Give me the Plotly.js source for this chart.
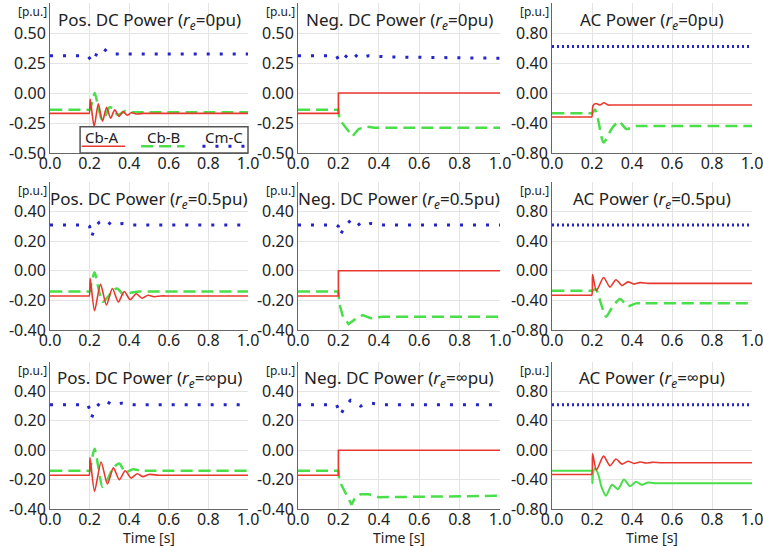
<!DOCTYPE html>
<html>
<head>
<meta charset="utf-8">
<script src="https://cdn.plot.ly/plotly-3.0.1.min.js"></script>
<style>html,body{margin:0;padding:0;background:#fff;}#chart{width:763px;height:548px;}</style>
</head>
<body>
<div id="chart"></div>
<script>
// ---------- data ----------
const seriesNames = ['Cb-A', 'Cb-B', 'Cm-C'];
const xTickVals = [0, 0.2, 0.4, 0.6, 0.8, 1.0];
const xTickText = ['0.0', '0.2', '0.4', '0.6', '0.8', '1.0'];
const dcTickVals1 = [-0.5, -0.25, 0, 0.25, 0.5];
const dcTickText1 = ['-0.50', '-0.25', '0.00', '0.25', '0.50'];
const dcRange1 = [-0.5, 0.75];
const dcTickVals2 = [-0.4, -0.2, 0, 0.2, 0.4];
const dcTickText2 = ['-0.40', '-0.20', '0.00', '0.20', '0.40'];
const dcRange2 = [-0.4, 0.6];
const acTickVals = [-0.8, -0.4, 0, 0.4, 0.8];
const acTickText = ['-0.80', '-0.40', '0.00', '0.40', '0.80'];
const acRange = [-0.8, 1.2];
const panelTitles = [
  'Pos. DC Power (<i>r<sub>e</sub></i>=0pu)', 'Neg. DC Power (<i>r<sub>e</sub></i>=0pu)', 'AC Power (<i>r<sub>e</sub></i>=0pu)',
  'Pos. DC Power (<i>r<sub>e</sub></i>=0.5pu)', 'Neg. DC Power (<i>r<sub>e</sub></i>=0.5pu)', 'AC Power (<i>r<sub>e</sub></i>=0.5pu)',
  'Pos. DC Power (<i>r<sub>e</sub></i>=∞pu)', 'Neg. DC Power (<i>r<sub>e</sub></i>=∞pu)', 'AC Power (<i>r<sub>e</sub></i>=∞pu)'
];

// Row 1: r_e = 0 pu
const pos0_A_t = [0, 0.19, 0.198, 0.203, 0.223, 0.244, 0.265, 0.286, 0.306, 0.327, 0.348, 0.369, 0.39, 0.41, 0.44, 0.47, 0.5, 1.0];
const pos0_A_v = [-0.17, -0.17, -0.17, -0.05, -0.28, -0.09, -0.235, -0.12, -0.21, -0.14, -0.195, -0.155, -0.185, -0.165, -0.175, -0.17, -0.17, -0.17];
const pos0_B_t = [0, 0.19, 0.2, 0.212, 0.226, 0.244, 0.262, 0.28, 0.30, 0.32, 0.34, 0.36, 0.38, 0.40, 0.45, 1.0];
const pos0_B_v = [-0.14, -0.14, -0.14, -0.08, 0.0, -0.12, -0.22, -0.19, -0.12, -0.13, -0.18, -0.17, -0.15, -0.16, -0.16, -0.16];
const pos0_C_t = [0, 0.19, 0.205, 0.22, 0.24, 0.27, 0.30, 0.33, 1.0];
const pos0_C_v = [0.31, 0.31, 0.28, 0.26, 0.35, 0.37, 0.33, 0.325, 0.325];

const neg0_A_t = [0, 0.2, 0.2, 1.0];
const neg0_A_v = [-0.17, -0.17, 0.0, 0.0];
const neg0_B_t = [0, 0.2, 0.205, 0.24, 0.27, 0.30, 0.34, 0.38, 0.42, 1.0];
const neg0_B_v = [-0.14, -0.14, -0.22, -0.30, -0.36, -0.30, -0.28, -0.29, -0.29, -0.29];
const neg0_C_t = [0, 0.19, 0.2, 0.215, 0.245, 0.27, 0.30, 0.35, 0.45, 1.0];
const neg0_C_v = [0.31, 0.31, 0.28, 0.26, 0.32, 0.34, 0.29, 0.31, 0.30, 0.29];

const ac0_A_t = [0, 0.19, 0.199, 0.205, 0.22, 0.24, 0.26, 0.28, 0.30, 1.0];
const ac0_A_v = [-0.32, -0.32, -0.32, -0.17, -0.14, -0.16, -0.13, -0.16, -0.16, -0.16];
const ac0_B_t = [0, 0.19, 0.2, 0.215, 0.23, 0.258, 0.30, 0.335, 0.372, 0.42, 0.46, 1.0];
const ac0_B_v = [-0.27, -0.27, -0.27, -0.22, -0.35, -0.66, -0.47, -0.38, -0.48, -0.44, -0.44, -0.44];
const ac0_C_t = [0, 1.0];
const ac0_C_v = [0.62, 0.62];

// Row 2: r_e = 0.5 pu
const pos5_A_t = [0, 0.19, 0.198, 0.203, 0.225, 0.255, 0.285, 0.315, 0.345, 0.375, 0.405, 0.435, 0.465, 0.495, 0.525, 0.56, 0.6, 1.0];
const pos5_A_v = [-0.17, -0.17, -0.17, -0.05, -0.27, -0.09, -0.23, -0.12, -0.21, -0.14, -0.195, -0.155, -0.185, -0.165, -0.175, -0.17, -0.17, -0.17];
const pos5_B_t = [0, 0.19, 0.2, 0.21, 0.225, 0.245, 0.265, 0.29, 0.32, 0.34, 0.37, 0.40, 0.45, 0.5, 1.0];
const pos5_B_v = [-0.14, -0.14, -0.14, -0.08, -0.01, -0.12, -0.21, -0.18, -0.13, -0.12, -0.16, -0.15, -0.14, -0.14, -0.14];
const pos5_C_t = [0, 0.19, 0.2, 0.21, 0.23, 0.25, 0.28, 0.31, 0.37, 0.42, 1.0];
const pos5_C_v = [0.31, 0.31, 0.30, 0.23, 0.30, 0.33, 0.345, 0.31, 0.32, 0.31, 0.31];

const neg5_A_t = [0, 0.2, 0.2, 1.0];
const neg5_A_v = [-0.17, -0.17, 0.0, 0.0];
const neg5_B_t = [0, 0.2, 0.205, 0.22, 0.25, 0.28, 0.32, 0.36, 0.42, 1.0];
const neg5_B_v = [-0.14, -0.14, -0.22, -0.30, -0.36, -0.33, -0.30, -0.32, -0.31, -0.31];
const neg5_C_t = [0, 0.19, 0.2, 0.21, 0.23, 0.26, 0.28, 0.31, 0.36, 0.42, 1.0];
const neg5_C_v = [0.31, 0.31, 0.30, 0.24, 0.30, 0.34, 0.35, 0.30, 0.32, 0.31, 0.31];

const ac5_A_t = [0, 0.19, 0.199, 0.203, 0.222, 0.258, 0.29, 0.32, 0.35, 0.38, 0.41, 0.44, 0.48, 0.52, 1.0];
const ac5_A_v = [-0.33, -0.33, -0.33, -0.05, -0.27, -0.09, -0.22, -0.12, -0.20, -0.15, -0.18, -0.16, -0.17, -0.17, -0.17];
const ac5_B_t = [0, 0.19, 0.2, 0.22, 0.24, 0.27, 0.30, 0.34, 0.38, 0.42, 0.46, 1.0];
const ac5_B_v = [-0.27, -0.27, -0.27, -0.25, -0.40, -0.62, -0.50, -0.38, -0.48, -0.44, -0.44, -0.44];
const ac5_C_t = [0, 1.0];
const ac5_C_v = [0.62, 0.62];

// Row 3: r_e = inf pu
const posI_A_t = [0, 0.19, 0.198, 0.202, 0.225, 0.258, 0.29, 0.32, 0.35, 0.38, 0.41, 0.44, 0.47, 0.50, 0.55, 0.6, 1.0];
const posI_A_v = [-0.17, -0.17, -0.17, -0.05, -0.28, -0.08, -0.23, -0.12, -0.20, -0.14, -0.19, -0.16, -0.18, -0.165, -0.17, -0.17, -0.17];
const posI_B_t = [0, 0.19, 0.2, 0.212, 0.225, 0.245, 0.265, 0.29, 0.32, 0.35, 0.38, 0.42, 0.46, 0.5, 1.0];
const posI_B_v = [-0.14, -0.14, -0.14, -0.06, 0.01, -0.12, -0.25, -0.20, -0.12, -0.09, -0.15, -0.13, -0.14, -0.14, -0.14];
const posI_C_t = [0, 0.19, 0.2, 0.21, 0.23, 0.26, 0.28, 0.31, 0.36, 0.42, 1.0];
const posI_C_v = [0.31, 0.31, 0.28, 0.22, 0.29, 0.33, 0.34, 0.31, 0.32, 0.31, 0.31];

const negI_A_t = [0, 0.2, 0.2, 1.0];
const negI_A_v = [-0.17, -0.17, 0.0, 0.0];
const negI_B_t = [0, 0.2, 0.205, 0.23, 0.265, 0.28, 0.31, 0.35, 0.40, 1.0];
const negI_B_v = [-0.14, -0.14, -0.21, -0.28, -0.37, -0.33, -0.30, -0.30, -0.32, -0.31];
const negI_C_t = [0, 0.19, 0.2, 0.21, 0.235, 0.26, 0.28, 0.31, 0.36, 0.42, 1.0];
const negI_C_v = [0.31, 0.31, 0.28, 0.24, 0.30, 0.34, 0.33, 0.30, 0.32, 0.31, 0.31];

const acI_A_t = [0, 0.19, 0.199, 0.203, 0.222, 0.258, 0.29, 0.32, 0.35, 0.38, 0.41, 0.44, 0.47, 0.50, 0.55, 1.0];
const acI_A_v = [-0.33, -0.33, -0.33, -0.05, -0.27, -0.08, -0.21, -0.12, -0.19, -0.15, -0.18, -0.16, -0.175, -0.165, -0.17, -0.17];
const acI_B_t = [0, 0.19, 0.199, 0.202, 0.206, 0.215, 0.23, 0.25, 0.27, 0.30, 0.33, 0.36, 0.39, 0.42, 0.45, 0.48, 0.52, 0.56, 1.0];
const acI_B_v = [-0.28, -0.28, -0.28, -0.45, -0.30, -0.25, -0.32, -0.52, -0.62, -0.47, -0.53, -0.40, -0.49, -0.43, -0.47, -0.44, -0.45, -0.45, -0.45];
const acI_C_t = [0, 1.0];
const acI_C_v = [0.62, 0.62];

// ---------- styling / layout ----------
const FONT = 'Noto Sans, Open Sans, sans-serif';
const RED = '#e8382e', GREEN = '#4ade4a', BLUE = '#2424cc';

const panels = [
  {A: [pos0_A_t, pos0_A_v], B: [pos0_B_t, pos0_B_v], C: [pos0_C_t, pos0_C_v], kind: 'dc1', smooth: true},
  {A: [neg0_A_t, neg0_A_v], B: [neg0_B_t, neg0_B_v], C: [neg0_C_t, neg0_C_v], kind: 'dc1', smooth: false},
  {A: [ac0_A_t, ac0_A_v], B: [ac0_B_t, ac0_B_v], C: [ac0_C_t, ac0_C_v], kind: 'ac', smooth: true},
  {A: [pos5_A_t, pos5_A_v], B: [pos5_B_t, pos5_B_v], C: [pos5_C_t, pos5_C_v], kind: 'dc2', smooth: true},
  {A: [neg5_A_t, neg5_A_v], B: [neg5_B_t, neg5_B_v], C: [neg5_C_t, neg5_C_v], kind: 'dc2', smooth: false},
  {A: [ac5_A_t, ac5_A_v], B: [ac5_B_t, ac5_B_v], C: [ac5_C_t, ac5_C_v], kind: 'ac', smooth: true},
  {A: [posI_A_t, posI_A_v], B: [posI_B_t, posI_B_v], C: [posI_C_t, posI_C_v], kind: 'dc2', smooth: true},
  {A: [negI_A_t, negI_A_v], B: [negI_B_t, negI_B_v], C: [negI_C_t, negI_C_v], kind: 'dc2', smooth: false},
  {A: [acI_A_t, acI_A_v], B: [acI_B_t, acI_B_v], C: [acI_C_t, acI_C_v], kind: 'ac', smooth: true, solidB: true}
];

const W = 763, H = 548;
const colPx = [[50, 248], [298, 500], [552, 752]];
const rowPx = [[3, 153], [182, 330], [362, 509]];

const data = [];
const layout = {
  width: W, height: H,
  margin: {l: 0, r: 0, t: 0, b: 0},
  paper_bgcolor: '#fff', plot_bgcolor: '#fff',
  showlegend: false,
  font: {family: FONT, color: '#222'},
  annotations: [], shapes: []
};

panels.forEach((p, i) => {
  const r = Math.floor(i / 3), c = i % 3;
  const n = i + 1;
  const xk = 'x' + (n === 1 ? '' : n), yk = 'y' + (n === 1 ? '' : n);
  const xa = 'xaxis' + (n === 1 ? '' : n), ya = 'yaxis' + (n === 1 ? '' : n);
  const isAC = p.kind === 'ac';
  const shp = p.smooth ? 'spline' : 'linear';
  data.push({x: p.B[0], y: p.B[1], xaxis: xk, yaxis: yk, type: 'scatter', mode: 'lines', name: seriesNames[1],
    line: {color: GREEN, width: p.solidB ? 2 : 2.5, dash: p.solidB ? 'solid' : '12px,6px', shape: shp, smoothing: 0.7}});
  data.push({x: p.A[0], y: p.A[1], xaxis: xk, yaxis: yk, type: 'scatter', mode: 'lines', name: seriesNames[0],
    line: {color: RED, width: 1.6, shape: shp, smoothing: 0.7}});
  data.push({x: p.C[0], y: p.C[1], xaxis: xk, yaxis: yk, type: 'scatter', mode: 'lines', name: seriesNames[2],
    line: {color: BLUE, width: 3, dash: isAC ? '2px,3px' : '3px,10px'}});

  layout[xa] = {
    domain: [colPx[c][0] / W, colPx[c][1] / W], anchor: yk, range: [0, 1],
    tickvals: xTickVals, ticktext: xTickText, ticks: '', ticklabeloverflow: 'allow',
    ticklabelstandoff: -4,
    showgrid: true, gridcolor: '#e4e4e4', gridwidth: 1,
    showline: true, linecolor: '#666', linewidth: 1, zeroline: false,
    tickfont: {size: 16, color: '#222', family: FONT}, fixedrange: true
  };
  const tv = isAC ? acTickVals : (p.kind === 'dc1' ? dcTickVals1 : dcTickVals2);
  const tt = isAC ? acTickText : (p.kind === 'dc1' ? dcTickText1 : dcTickText2);
  const rg = isAC ? acRange : (p.kind === 'dc1' ? dcRange1 : dcRange2);
  layout[ya] = {
    domain: [1 - rowPx[r][1] / H, 1 - rowPx[r][0] / H], anchor: xk,
    range: rg,
    tickvals: tv, ticktext: tt, ticks: '', ticklabeloverflow: 'allow',
    showgrid: true, gridcolor: '#e4e4e4', gridwidth: 1,
    showline: true, linecolor: '#666', linewidth: 1, zeroline: false,
    tickfont: {size: 16, color: '#222', family: FONT}, fixedrange: true
  };
  layout.annotations.push({
    text: panelTitles[i], xref: xk + ' domain', yref: yk + ' domain', x: 0.5, y: 0.885,
    xanchor: 'center', yanchor: 'middle', showarrow: false,
    font: {size: 17, color: '#222', family: FONT}
  });
  layout.annotations.push({
    text: '[p.u.]', xref: xk + ' domain', yref: yk + ' domain', x: 0, y: 0.945,
    xanchor: 'right', yanchor: 'middle', xshift: -1, showarrow: false,
    font: {size: 12, color: '#222', family: FONT}
  });
  if (r === 2) {
    layout.annotations.push({
      text: 'Time [s]', xref: xk + ' domain', yref: 'paper', x: 0.5, y: 1 - 537 / H,
      xanchor: 'center', yanchor: 'middle', showarrow: false,
      font: {size: 14, color: '#222', family: FONT}
    });
  }
});

// legend box (drawn inside the first panel, text above the line sample as in the reference)
layout.shapes.push({type: 'rect', xref: 'x domain', yref: 'y domain', x0: 0.152, x1: 1.0, y0: 0.0, y1: 0.175,
  line: {color: '#555', width: 1.5}, fillcolor: '#fff', layer: 'above'});
const legX = [[0.16, 0.38, 0.265], [0.46, 0.68, 0.575], [0.77, 0.985, 0.88]];
const legStyle = [
  {color: RED, width: 1.6, dash: 'solid'},
  {color: GREEN, width: 2.5, dash: '12px,6px'},
  {color: BLUE, width: 3, dash: '3px,10px'}
];
seriesNames.forEach((nm, k) => {
  layout.shapes.push({type: 'line', xref: 'x domain', yref: 'y domain', x0: legX[k][0], x1: legX[k][1], y0: 0.045, y1: 0.045,
    line: legStyle[k], layer: 'above'});
  layout.annotations.push({text: nm, xref: 'x domain', yref: 'y domain', x: legX[k][2], y: 0.105,
    xanchor: 'center', yanchor: 'middle', showarrow: false, font: {size: 15, color: '#222', family: FONT}});
});

Plotly.newPlot('chart', data, layout, {staticPlot: true, displayModeBar: false});
</script>
</body>
</html>
